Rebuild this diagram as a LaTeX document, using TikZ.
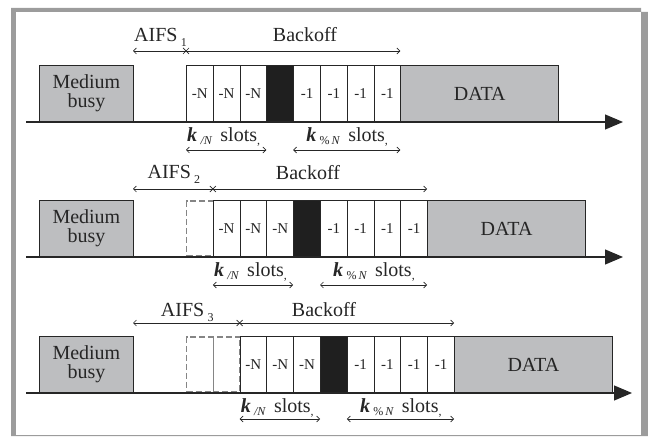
\documentclass[tikz,border=0pt]{standalone}
\usepackage{fontspec}
\setmainfont{Liberation Serif}
\usetikzlibrary{arrows.meta}
\definecolor{ink}{HTML}{262626}
\definecolor{busyfill}{HTML}{BDBEC0}
\definecolor{framegray}{HTML}{9C9C9C}
\definecolor{dashgray}{HTML}{858585}
\tikzset{
  box/.style={draw=ink, line width=0.8pt, inner sep=0pt, anchor=south west, minimum height=56pt},
  busybox/.style={box, fill=busyfill, minimum width=94pt, align=center, font=\fontsize{20}{19}\selectfont, text=ink},
  slotbox/.style={box, fill=white, minimum width=26.8pt, font=\fontsize{15}{15}\selectfont, text=ink},
  blackbox/.style={box, fill=black!88, minimum width=26.8pt},
  databox/.style={box, fill=busyfill, minimum width=158pt, font=\fontsize{20}{20}\selectfont, text=ink},
  ghostbox/.style={draw=dashgray, line width=1.6pt, dash pattern=on 6pt off 3pt, inner sep=0pt, anchor=south west, minimum height=54.5pt, minimum width=26.8pt},
  timeline/.style={draw=ink, line width=1.1pt, -{Triangle[length=18pt,width=15pt]}},
  span/.style={draw=ink, line width=0.7pt},
  barb/.style={span, -{Straight Barb[length=3pt,width=6pt]}},
  dbarb/.style={span, {Straight Barb[length=3pt,width=6pt]}-{Straight Barb[length=3pt,width=6pt]}},
  lbl/.style={text=ink, font=\fontsize{20}{20}\selectfont, inner sep=0pt}
}
\newcommand{\subsz}[1]{{\fontsize{12}{12}\selectfont #1}}
\begin{document}
\begin{tikzpicture}[x=1pt,y=-1pt]
\useasboundingbox (0,0) rectangle (648,438);
% frame
\fill[framegray] (11,8) -- (641,8) -- (641,12) -- (648,12) -- (648,436) -- (11,436) -- cycle;
\fill[white] (16,12) rectangle (641,435);
\foreach \T/\d/\A/\Lb/\K/\Kt/\E/\Bx/\Bb/\r in {
  122/0/51/42/150/142/623/305/42/1,
  257/1/189/179/285/277/623/308/180/2,
  393/2/323/317/419/412/632/324/317/3}{
  \pgfmathsetmacro\S{186+26.8*\d}
  \pgfmathsetmacro\W{26.8}
  % timeline
  \coordinate (t0\r) at (26,\T);
  \coordinate (t1\r) at (\E,\T);
  \draw[timeline] (t0\r) -- (t1\r);
  % medium busy
  \node[busybox] (mb\r) at (39,\T) {Medium\\busy};
  % ghost slots
  \ifnum\d>0
    \foreach \g in {1,...,\d}{
      \node[ghostbox] (g\r\g) at ({185+26.8*(\g-1)+0.8},{\T-0.8}) {};
    }
  \fi
  % slots
  \foreach \i in {0,1,2}{
    \node[slotbox] (s\r\i) at ({\S+\W*\i},\T) {-N};
  }
  \node[blackbox] (s\r3) at ({\S+\W*3},\T) {};
  \foreach \i in {4,5,6,7}{
    \node[slotbox] (s\r\i) at ({\S+\W*\i},\T) {-1};
  }
  \node[databox] (dt\r) at ({\S+\W*8},\T) {DATA};
  % AIFS / backoff arrows
  \coordinate (al\r) at (133,\A);
  \coordinate (ax\r) at (\S,\A);
  \coordinate (bx\r) at ({\S+\W*8},\A);
  \draw[barb] (ax\r) -- (al\r);
  \draw[barb] (ax\r) -- (bx\r);
  \draw[span] ([shift={(-3,-3)}]ax\r) -- ([shift={(3,3)}]ax\r);
  \draw[span] ([shift={(-3,3)}]ax\r) -- ([shift={(3,-3)}]ax\r);
  \node[lbl, anchor=base] (aifs\r) at ({(133+\S)/2+1},\Lb) {AIFS\,\raisebox{-5pt}{\subsz{\r}}};
  \node[lbl, anchor=base] (bo\r) at (\Bx,\Bb) {Backoff};
  % k arrows
  \coordinate (k0\r) at (\S,\K);
  \coordinate (k1\r) at ({\S+\W*3},\K);
  \coordinate (k2\r) at ({\S+\W*4},\K);
  \coordinate (k3\r) at ({\S+\W*8},\K);
  \draw[dbarb] (k0\r) -- (k1\r);
  \draw[dbarb] (k2\r) -- (k3\r);
  \node[lbl, anchor=base west] (kn\r) at ({\S+1},\Kt)
    {\textbf{\textit{k}}\,\raisebox{-3pt}{\subsz{\textit{/N}}}\hspace{8pt}slots\raisebox{-3pt}{\subsz{,}}};
  \node[lbl, anchor=base west] (km\r) at ({\S+\W*4+13},\Kt)
    {\textbf{\textit{k}}\,\raisebox{-3pt}{\subsz{\%\,\textit{N}}}\hspace{8pt}slots\raisebox{-3pt}{\subsz{,}}};
}
\end{tikzpicture}
\end{document}
